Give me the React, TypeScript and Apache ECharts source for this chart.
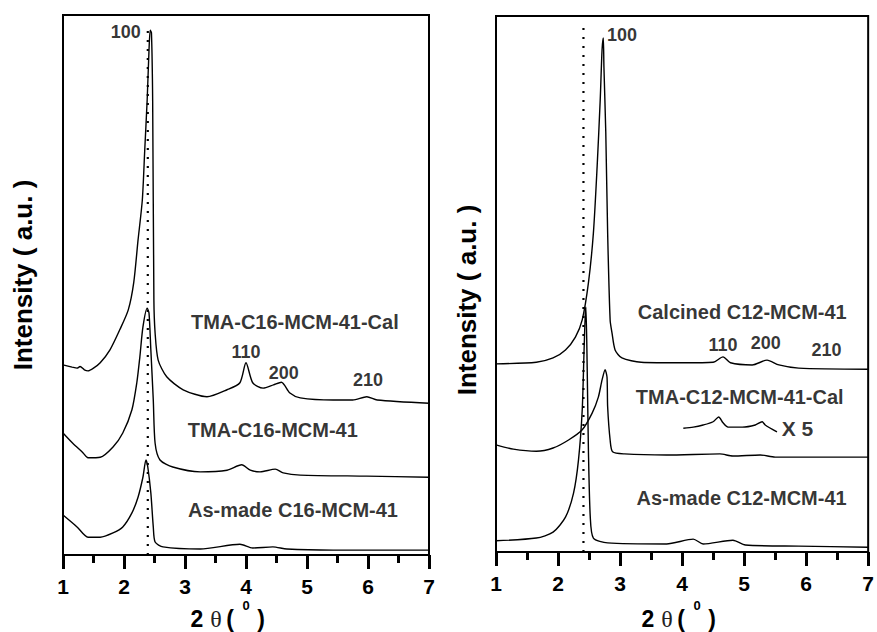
import React, { useEffect, useRef } from "react";
import * as echarts from "echarts";

// ---- Left panel (C16 samples), x = 2θ (deg), y = stacked intensity (a.u.) ----
const tmaC16Cal: number[][] = [
  [1.0, 35.2], [1.15, 34.8], [1.23, 34.6], [1.28, 34.9], [1.35, 34.3], [1.41, 34.1], [1.5, 34.6],
  [1.61, 35.6], [1.77, 38.0], [1.93, 41.7], [2.07, 45.4], [2.16, 50.5], [2.23, 58.3], [2.3, 65.7],
  [2.34, 75.0], [2.38, 84.3], [2.41, 93.5], [2.43, 97.2], [2.45, 96.7], [2.47, 84.0], [2.49, 47.2],
  [2.51, 41.1], [2.56, 36.1], [2.7, 33.0], [2.97, 30.6], [3.36, 29.3], [3.69, 30.6], [3.9, 31.9],
  [4.0, 35.6], [4.11, 31.9], [4.28, 30.9], [4.45, 31.5], [4.58, 32.0], [4.72, 30.0], [4.89, 29.1],
  [5.43, 28.7], [5.75, 28.7], [5.98, 29.3], [6.15, 28.7], [7.0, 28.1],
];
const tmaC16: number[][] = [
  [1.0, 22.6], [1.16, 20.7], [1.33, 18.9], [1.41, 18.0], [1.61, 18.1], [1.82, 20.0], [1.98, 22.6],
  [2.13, 26.9], [2.21, 31.9], [2.26, 36.7], [2.31, 42.2], [2.38, 45.7], [2.41, 44.8], [2.44, 38.0],
  [2.48, 28.7], [2.51, 20.7], [2.59, 17.6], [2.8, 16.3], [3.25, 15.4], [3.69, 15.7], [3.93, 16.7],
  [4.07, 15.7], [4.23, 15.4], [4.48, 15.9], [4.61, 15.2], [4.89, 14.8], [5.98, 14.6], [7.0, 14.4],
];
const asMadeC16: number[][] = [
  [1.0, 7.4], [1.23, 5.2], [1.41, 3.3], [1.61, 3.3], [1.82, 4.1], [1.98, 5.2], [2.13, 7.8],
  [2.23, 10.7], [2.31, 14.4], [2.36, 17.6], [2.39, 16.3], [2.44, 11.5], [2.48, 5.2], [2.51, 2.4],
  [2.64, 1.5], [3.25, 1.1], [3.9, 2.0], [4.11, 1.3], [4.44, 1.5], [4.67, 1.1], [5.43, 0.9], [7.0, 0.9],
];

// ---- Right panel (C12 samples) ----
const calcinedC12: number[][] = [
  [1.0, 35.1], [1.65, 35.4], [1.92, 36.2], [2.12, 37.7], [2.28, 40.1], [2.39, 43.3], [2.49, 50.2],
  [2.57, 59.5], [2.63, 71.8], [2.68, 84.3], [2.71, 93.7], [2.73, 95.9], [2.74, 90.5], [2.77, 78.2],
  [2.8, 59.5], [2.84, 43.3], [2.87, 40.9], [2.92, 37.7], [3.03, 36.2], [3.34, 35.4], [4.02, 35.3],
  [4.5, 35.4], [4.66, 36.4], [4.78, 35.3], [5.13, 34.9], [5.37, 35.8], [5.56, 34.9], [5.88, 34.3],
  [7.0, 34.1],
];
const tmaC12Cal: number[][] = [
  [1.0, 20.0], [1.28, 19.2], [1.65, 18.8], [1.92, 19.4], [2.17, 20.9], [2.39, 22.8], [2.55, 25.9],
  [2.65, 28.9], [2.71, 32.1], [2.76, 34.0], [2.79, 32.6], [2.8, 27.1], [2.84, 20.9], [2.88, 18.7],
  [3.07, 18.3], [3.75, 18.1], [4.61, 18.3], [4.82, 17.9], [5.26, 18.1], [5.5, 17.7], [7.0, 17.7],
];
const tmaC12CalX5: number[][] = [
  [4.02, 23.1], [4.18, 23.3], [4.34, 23.7], [4.5, 24.3], [4.59, 25.2], [4.66, 24.1], [4.74, 23.3],
  [4.97, 23.3], [5.18, 23.7], [5.29, 24.3], [5.34, 23.7], [5.53, 22.4],
];
const asMadeC12: number[][] = [
  [1.0, 2.1], [1.65, 2.6], [1.92, 3.7], [2.12, 6.5], [2.25, 11.0], [2.33, 17.2], [2.39, 26.5],
  [2.42, 37.7], [2.44, 44.6], [2.45, 45.7], [2.47, 34.5], [2.49, 19.0], [2.52, 6.5], [2.57, 2.6],
  [2.8, 1.7], [3.75, 1.5], [4.18, 2.4], [4.34, 1.5], [4.82, 2.2], [5.02, 1.3], [5.88, 1.1], [7.0, 0.9],
];

// reference (dotted) lines
const refLeft: number[][] = [[2.39, 0], [2.39, 97.8]];
const refRight: number[][] = [[2.41, 0], [2.41, 98.3]];

// annotations: [x, y, text]
const notesLeft: [number, number, string][] = [
  [4.8, 43.1, "TMA-C16-MCM-41-Cal"],
  [4.44, 23.1, "TMA-C16-MCM-41"],
  [4.77, 8.3, "As-made C16-MCM-41"],
];
const peaksLeft: [number, number, string][] = [
  [2.03, 96.9, "100"],
  [4.0, 37.6, "110"],
  [4.62, 33.7, "200"],
  [6.0, 32.4, "210"],
];
const notesRight: [number, number, string][] = [
  [4.97, 44.8, "Calcined C12-MCM-41"],
  [4.93, 28.9, "TMA-C12-MCM-41-Cal"],
  [4.96, 10.1, "As-made C12-MCM-41"],
];
const peaksRight: [number, number, string][] = [
  [3.03, 96.5, "100"],
  [4.66, 38.6, "110"],
  [5.35, 39.0, "200"],
  [6.33, 37.7, "210"],
];
const x5Note: [number, number, string][] = [[5.86, 23.1, "X 5"]];

const xTicks = { min: 1, max: 7, interval: 1 };
const FONT = "'Liberation Sans', Arial, sans-serif";
const TICK = "#000";

function curve(data: number[][], idx: number) {
  return {
    type: "line",
    xAxisIndex: idx,
    yAxisIndex: idx,
    data,
    showSymbol: false,
    symbol: "none",
    smooth: 0.25,
    lineStyle: { color: "#000", width: 1.4 },
    z: 3,
  };
}

function dotted(data: number[][], idx: number) {
  return {
    type: "line",
    xAxisIndex: idx,
    yAxisIndex: idx,
    data,
    showSymbol: false,
    symbol: "none",
    lineStyle: { color: "#000", width: 2.2, type: [2, 7] },
    z: 2,
  };
}

function notes(items: [number, number, string][], idx: number, size: number) {
  return {
    type: "scatter",
    xAxisIndex: idx,
    yAxisIndex: idx,
    symbolSize: 1,
    itemStyle: { color: "rgba(0,0,0,0)" },
    data: items.map((d) => ({ value: [d[0], d[1]], name: d[2] })),
    label: {
      show: true,
      position: "inside",
      formatter: "{b}",
      color: "#000",
      textBorderWidth: 0,
      fontFamily: FONT,
      fontWeight: "bold",
      fontSize: size,
      align: "center",
      verticalAlign: "middle",
    },
    z: 5,
    silent: true,
  };
}

function xAxis(idx: number) {
  return {
    type: "value",
    gridIndex: idx,
    position: "bottom",
    ...xTicks,
    axisLine: { show: true, onZero: false, lineStyle: { color: "#000", width: 2 } },
    axisTick: { show: true, inside: false, length: 14, lineStyle: { color: TICK, width: 3 } },
    minorTick: { show: true, splitNumber: 2, length: 8, lineStyle: { color: TICK, width: 3 } },
    axisLabel: {
      color: "#000",
      fontFamily: FONT,
      fontWeight: "bold",
      fontSize: 21,
      margin: 21,
    },
    splitLine: { show: false },
    z: 10,
  };
}

function yAxis(idx: number) {
  return {
    type: "value",
    gridIndex: idx,
    min: 0,
    max: 100,
    show: false,
  };
}

function xTitle(cx: number) {
  const base = { fill: "#000", align: "center", verticalAlign: "middle" };
  return {
    type: "group",
    x: cx,
    y: 619,
    children: [
      { type: "text", x: -31, y: 0, style: { ...base, text: "2", font: `bold 23px ${FONT}` } },
      { type: "text", x: -12, y: 0, style: { ...base, text: "θ", font: `normal 24px 'Liberation Serif', serif`, fill: "#222" } },
      { type: "text", x: 2, y: 0, style: { ...base, text: "(", font: `bold 23px ${FONT}` } },
      { type: "text", x: 18, y: -14, style: { ...base, text: "0", font: `bold 13px ${FONT}` } },
      { type: "text", x: 33, y: 0, style: { ...base, text: ")", font: `bold 23px ${FONT}` } },
    ],
  };
}

export default function App() {
  const ref = useRef<HTMLDivElement>(null);
  useEffect(() => {
    if (!ref.current) return;
    const chart = echarts.init(ref.current, null, { renderer: "svg" });
    chart.setOption({
      animation: false,
      backgroundColor: "#fff",
      grid: [
        { left: 63, top: 15, width: 366, height: 540, show: true, borderColor: "#000", borderWidth: 2 },
        { left: 496, top: 16, width: 379, height: 536, show: true, borderColor: "#000", borderWidth: 2 },
      ],
      xAxis: [xAxis(0), xAxis(1)],
      yAxis: [yAxis(0), yAxis(1)],
      series: [
        dotted(refLeft, 0),
        curve(tmaC16Cal, 0),
        curve(tmaC16, 0),
        curve(asMadeC16, 0),
        notes(notesLeft, 0, 20),
        notes(peaksLeft, 0, 18),
        dotted(refRight, 1),
        curve(calcinedC12, 1),
        curve(tmaC12Cal, 1),
        curve(tmaC12CalX5, 1),
        curve(asMadeC12, 1),
        notes(notesRight, 1, 20),
        notes(peaksRight, 1, 18),
        notes(x5Note, 1, 21),
      ],
      graphic: [
        {
          type: "text",
          x: 23,
          y: 275,
          rotation: Math.PI / 2,
          style: { text: "Intensity ( a.u. )", font: `bold 26px ${FONT}`, fill: "#000", align: "center", verticalAlign: "middle" },
        },
        {
          type: "text",
          x: 467,
          y: 300,
          rotation: Math.PI / 2,
          style: { text: "Intensity ( a.u. )", font: `bold 26px ${FONT}`, fill: "#000", align: "center", verticalAlign: "middle" },
        },
        xTitle(228),
        xTitle(679),
      ],
    });
    return () => chart.dispose();
  }, []);
  return (
    <div
      ref={ref}
      style={{ position: "fixed", left: 0, top: 0, width: 877, height: 632, background: "#fff" }}
    />
  );
}
